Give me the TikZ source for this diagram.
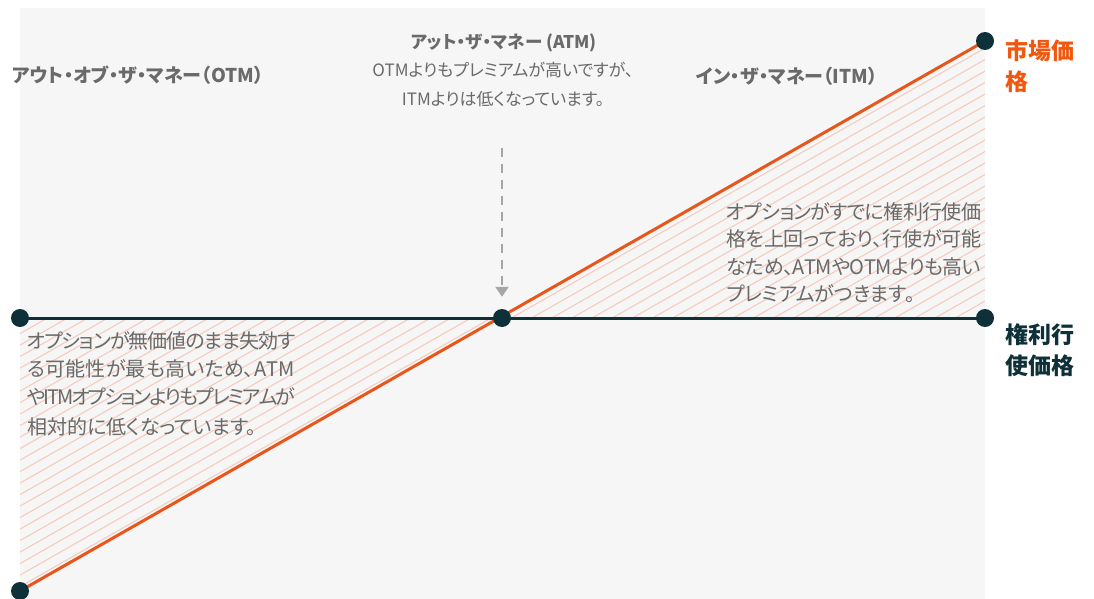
\documentclass[tikz,border=0pt]{standalone}
\usepackage{fontspec}
\newfontfamily\jp[RawFeature=+palt]{Noto Sans CJK JP}
\usetikzlibrary{arrows.meta}
\definecolor{bgc}{HTML}{F6F6F6}
\definecolor{txtc}{HTML}{6A6A6A}
\definecolor{orc}{HTML}{E8561C}
\definecolor{orl}{HTML}{F0580F}
\definecolor{teal}{HTML}{0E3038}
\definecolor{hatchc}{HTML}{F5CCBC}
\definecolor{arrc}{HTML}{A6A6A6}
\pgfdeclarelayer{bg}
\pgfsetlayers{bg,main}
\makeatletter
\def\sprd#1{\sprd@#1\relax}
\def\sprd@#1{\ifx\relax#1\unskip\else#1\hskip0pt plus 1fil minus 3pt\relax\expandafter\sprd@\fi}
\makeatother
\newcommand\jline[2]{\hbox to #1{\sprd{#2}}}
\tikzset{
  dot/.style={circle,fill=teal,minimum size=18pt,inner sep=0pt},
  title/.style={font=\jp\bfseries\fontsize{19}{22}\selectfont,text=txtc,inner sep=0pt},
  body/.style={font=\jp\fontsize{20}{22}\selectfont,text=txtc,inner sep=0pt,anchor=base west},
  atmbody/.style={font=\jp\fontsize{17}{20}\selectfont,text=txtc,inner sep=0pt,anchor=base},
  lab/.style={font=\jp\bfseries\fontsize{23}{26}\selectfont,inner sep=0pt,anchor=base west},
  hatch/.style={draw=hatchc,line width=1.1pt},
}
\begin{document}
\begin{tikzpicture}[x=1pt,y=-1pt]
\useasboundingbox (0,0) rectangle (1094,599);
% dots
\node[dot] (sl) at (20,318) {};
\node[dot] (sm) at (502,318) {};
\node[dot] (sr) at (985,318) {};
\node[dot] (ml) at (20,591) {};
\node[dot] (mr) at (985,41) {};
\coordinate (atop) at (502,148);
\begin{pgfonlayer}{bg}
  \fill[bgc] (20,8) rectangle (985,599);
  \begin{scope}
    \clip (sl.center) -- (sm.center) -- (ml.center) -- cycle;
    \foreach \c in {0,11.5,...,1300} {\draw[hatch] (0,\c) -- (1094,\c-623.6);}
  \end{scope}
  \begin{scope}
    \clip (sm.center) -- (sr.center) -- (mr.center) -- cycle;
    \foreach \c in {0,11.5,...,1300} {\draw[hatch] (0,\c) -- (1094,\c-623.6);}
  \end{scope}
  \draw[teal,line width=3pt] (sl.center) -- (sr.center);
  \draw[orc,line width=3pt] (ml.center) -- (mr.center);
\end{pgfonlayer}
\draw[arrc,line width=2pt,dash pattern=on 9pt off 7pt,-{Triangle[width=13pt,length=10pt]},shorten >=12pt] (atop) -- (sm);
% titles
\node[title,anchor=base west] (otm) at (12,82.2) {アウト・オブ・ザ・マネー（OTM）};
\node[title,anchor=base west] (itm) at (696,83.8) {イン・ザ・マネー（ITM）};
\node[title,anchor=base,font=\jp\bfseries\fontsize{17.5}{20}\selectfont] (atm) at (504,48.3) {アット・ザ・マネー (ATM)};
\node[atmbody] (atm1) at (503,76.5) {OTMよりもプレミアムが高いですが、};
\node[atmbody] (atm2) at (503,105.5) {ITMよりは低くなっています。};
% right labels
\node[lab,text=orl] (mk1) at (1005,59.7) {市場価};
\node[lab,text=orl] (mk2) at (1005,90.7) {格};
\node[lab,text=teal] (st1) at (1005,343.7) {権利行};
\node[lab,text=teal] (st2) at (1005,374.7) {使価格};
% left body
\node[body] (lb1) at (27,348.3) {\jline{268pt}{オプションが無価値のまま失効す}};
\node[body] (lb2) at (27,376.6) {\jline{268pt}{る可能性が最も高いため、ATM}};
\node[body] (lb3) at (27,404.6) {\jline{268pt}{やITMオプションよりもプレミアムが}};
\node[body] (lb4) at (27,434.3) {相対的に低くなっています。};
% right body
\node[body] (rb1) at (726,219.6) {\jline{255pt}{オプションがすでに権利行使価}};
\node[body] (rb2) at (726,246.6) {\jline{255pt}{格を上回っており、行使が可能}};
\node[body] (rb3) at (726,274.6) {\jline{255pt}{なため、ATMやOTMよりも高い}};
\node[body] (rb4) at (726,301.6) {プレミアムがつきます。};
\end{tikzpicture}
\end{document}
